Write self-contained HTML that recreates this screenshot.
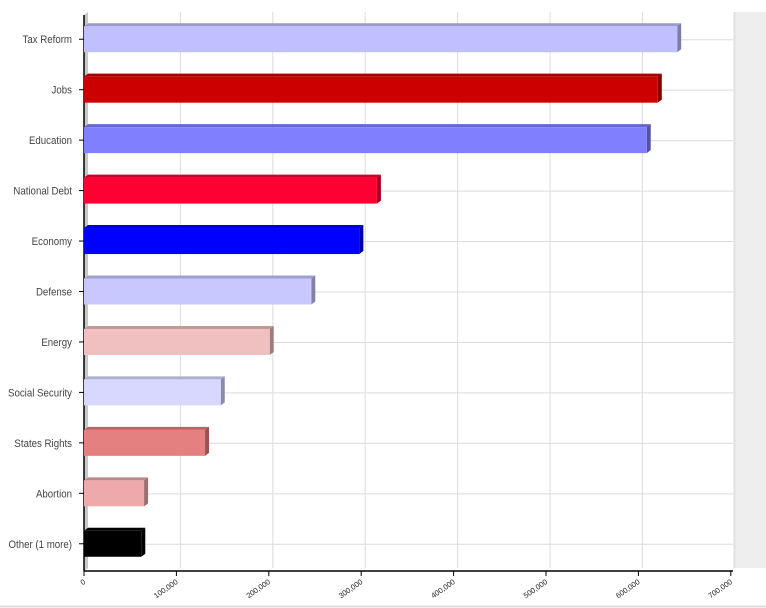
<!DOCTYPE html>
<html><head><meta charset="utf-8"><style>
html,body{margin:0;padding:0;background:#fff;}
svg{display:block;font-family:"Liberation Sans",sans-serif;}
</style></head><body>
<svg id="c" width="766" height="608"></svg>
<script>
const categories=["Tax Reform","Jobs","Education","National Debt","Economy","Defense","Energy","Social Security","States Rights","Abortion","Other (1 more)"];
const values=[642000,621000,609000,317000,298000,246000,201000,148000,131000,65000,62000];
const colors=["#c0c0ff","#cc0000","#8080ff","#ff0033","#0000ff","#c8c8ff","#f0c0c0","#d8d8ff","#e58080","#eeaaaa","#000000"];
const ticks=[0,100000,200000,300000,400000,500000,600000,700000];
const tickLabels=["0","100,000","200,000","300,000","400,000","500,000","600,000","700,000"];
const NS="http://www.w3.org/2000/svg";
const svgEl=document.getElementById('c');
function el(t,a,p){const e=document.createElementNS(NS,t);for(const k in a)e.setAttribute(k,a[k]);(p||svgEl).appendChild(e);return e;}
const x0=84,pxPer=92.4/100000,plotTop=12,plotBottom=571,dx=4,dy=-3;
function X(v){return x0+v*pxPer;}
const rowH=(plotBottom-plotTop-4)/categories.length;
function Y(i){return plotTop+2+rowH*(i+0.5);}
function shade(hex,f){let n=parseInt(hex.slice(1),16);let r=n>>16,g=(n>>8)&255,b=n&255;
 const m=c=>Math.max(0,Math.min(255,Math.round(f<1?c*f:c+(255-c)*(f-1))));return `rgb(${m(r)},${m(g)},${m(b)})`;}
let p=el('rect',{x:733,y:12,width:33,height:556,fill:'#eeeeee'});


el('line',{x1:0,y1:606.5,x2:766,y2:606.5,stroke:'#dddddd','stroke-width':2});
const g=el('g',{});


ticks.forEach(t=>{if(t>0)el('line',{x1:X(t)+dx,y1:plotTop,x2:X(t)+dx,y2:plotBottom+dy,stroke:'#dcdcdc'},g);});
categories.forEach((c,i)=>el('line',{x1:x0+dx,y1:Y(i)+0.5,x2:733,y2:Y(i)+0.5,stroke:'#dcdcdc'},g));
let w=el('polygon',{points:`${x0},${plotTop+3} ${x0+dx},${plotTop} ${x0+dx},${plotBottom+dy} ${x0},${plotBottom}`,fill:'#c8c8c8'});


el('line',{x1:x0,y1:plotTop+3,x2:x0,y2:plotBottom,stroke:'#000','stroke-width':1.5});
el('line',{x1:x0,y1:plotBottom,x2:733,y2:plotBottom,stroke:'#000','stroke-width':1.5});
const bh=26;
categories.forEach((c,i)=>{
 const y=Y(i)-bh/2,xe=X(values[i]);
 const b=el('g',{});
 
 
 el('polygon',{points:`${x0},${y} ${x0+dx},${y+dy} ${xe+dx},${y+dy} ${xe},${y}`,fill:shade(colors[i],0.8)},b);
 el('polygon',{points:`${xe},${y} ${xe+dx},${y+dy} ${xe+dx},${y+bh+dy} ${xe},${y+bh}`,fill:shade(colors[i],0.65)},b);
 el('rect',{x:x0,y:y,width:xe-x0,height:bh,fill:colors[i]},b);
 el('line',{x1:x0-5,y1:Y(i),x2:x0,y2:Y(i),stroke:'#000'});
 const t=el('text',{x:0,y:0,'text-anchor':'end','font-size':11,fill:'#444',transform:`translate(${x0-12} ${Y(i)+4}) scale(0.88 1)`});
 t.textContent=c;
 
 
});
ticks.forEach((t,i)=>{
 el('line',{x1:X(t),y1:plotBottom,x2:X(t),y2:plotBottom+5,stroke:'#000'});
 const tx=el('text',{x:X(t)+2,y:plotBottom+12,'text-anchor':'end','font-size':7.5,fill:'#222',transform:`rotate(-35 ${X(t)+2} ${plotBottom+12})`});
 tx.textContent=tickLabels[i];
 
 
});
</script>
</body></html>
